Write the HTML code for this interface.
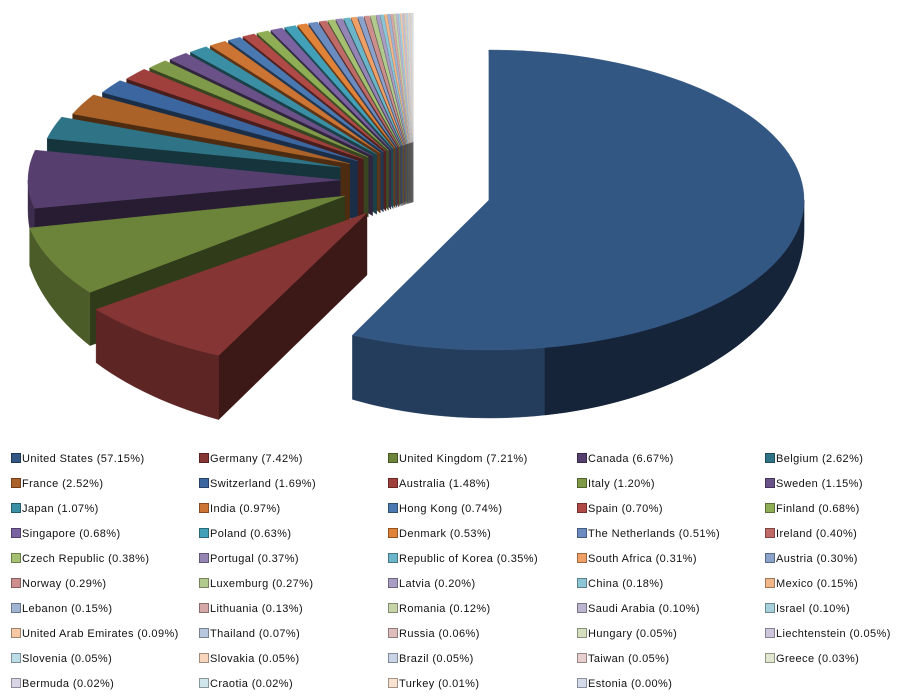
<!DOCTYPE html>
<html><head><meta charset="utf-8"><style>
html,body{margin:0;padding:0;background:#fff;}
#wrap{position:relative;width:903px;height:697px;overflow:hidden;background:#fff;}
svg{position:absolute;left:0;top:0;}
.lg{position:absolute;font-family:"Liberation Sans",sans-serif;font-size:11px;letter-spacing:0.4px;color:#111;white-space:nowrap;line-height:12px;}
.lg i{display:inline-block;width:8px;height:8px;border:1px solid rgba(0,0,0,0.35);margin-right:1px;vertical-align:-1px;}
</style></head><body><div id="wrap">
<svg id="pie" width="903" height="445" viewBox="0 0 903 445"></svg>
<div id="legend">
<div class="lg" style="left:11px;top:453px"><i></i>United States (57.15%)</div>
<div class="lg" style="left:199px;top:453px"><i></i>Germany (7.42%)</div>
<div class="lg" style="left:388px;top:453px"><i></i>United Kingdom (7.21%)</div>
<div class="lg" style="left:577px;top:453px"><i></i>Canada (6.67%)</div>
<div class="lg" style="left:765px;top:453px"><i></i>Belgium (2.62%)</div>
<div class="lg" style="left:11px;top:478px"><i></i>France (2.52%)</div>
<div class="lg" style="left:199px;top:478px"><i></i>Switzerland (1.69%)</div>
<div class="lg" style="left:388px;top:478px"><i></i>Australia (1.48%)</div>
<div class="lg" style="left:577px;top:478px"><i></i>Italy (1.20%)</div>
<div class="lg" style="left:765px;top:478px"><i></i>Sweden (1.15%)</div>
<div class="lg" style="left:11px;top:503px"><i></i>Japan (1.07%)</div>
<div class="lg" style="left:199px;top:503px"><i></i>India (0.97%)</div>
<div class="lg" style="left:388px;top:503px"><i></i>Hong Kong (0.74%)</div>
<div class="lg" style="left:577px;top:503px"><i></i>Spain (0.70%)</div>
<div class="lg" style="left:765px;top:503px"><i></i>Finland (0.68%)</div>
<div class="lg" style="left:11px;top:528px"><i></i>Singapore (0.68%)</div>
<div class="lg" style="left:199px;top:528px"><i></i>Poland (0.63%)</div>
<div class="lg" style="left:388px;top:528px"><i></i>Denmark (0.53%)</div>
<div class="lg" style="left:577px;top:528px"><i></i>The Netherlands (0.51%)</div>
<div class="lg" style="left:765px;top:528px"><i></i>Ireland (0.40%)</div>
<div class="lg" style="left:11px;top:553px"><i></i>Czech Republic (0.38%)</div>
<div class="lg" style="left:199px;top:553px"><i></i>Portugal (0.37%)</div>
<div class="lg" style="left:388px;top:553px"><i></i>Republic of Korea (0.35%)</div>
<div class="lg" style="left:577px;top:553px"><i></i>South Africa (0.31%)</div>
<div class="lg" style="left:765px;top:553px"><i></i>Austria (0.30%)</div>
<div class="lg" style="left:11px;top:578px"><i></i>Norway (0.29%)</div>
<div class="lg" style="left:199px;top:578px"><i></i>Luxemburg (0.27%)</div>
<div class="lg" style="left:388px;top:578px"><i></i>Latvia (0.20%)</div>
<div class="lg" style="left:577px;top:578px"><i></i>China (0.18%)</div>
<div class="lg" style="left:765px;top:578px"><i></i>Mexico (0.15%)</div>
<div class="lg" style="left:11px;top:603px"><i></i>Lebanon (0.15%)</div>
<div class="lg" style="left:199px;top:603px"><i></i>Lithuania (0.13%)</div>
<div class="lg" style="left:388px;top:603px"><i></i>Romania (0.12%)</div>
<div class="lg" style="left:577px;top:603px"><i></i>Saudi Arabia (0.10%)</div>
<div class="lg" style="left:765px;top:603px"><i></i>Israel (0.10%)</div>
<div class="lg" style="left:11px;top:628px"><i></i>United Arab Emirates (0.09%)</div>
<div class="lg" style="left:199px;top:628px"><i></i>Thailand (0.07%)</div>
<div class="lg" style="left:388px;top:628px"><i></i>Russia (0.06%)</div>
<div class="lg" style="left:577px;top:628px"><i></i>Hungary (0.05%)</div>
<div class="lg" style="left:765px;top:628px"><i></i>Liechtenstein (0.05%)</div>
<div class="lg" style="left:11px;top:653px"><i></i>Slovenia (0.05%)</div>
<div class="lg" style="left:199px;top:653px"><i></i>Slovakia (0.05%)</div>
<div class="lg" style="left:388px;top:653px"><i></i>Brazil (0.05%)</div>
<div class="lg" style="left:577px;top:653px"><i></i>Taiwan (0.05%)</div>
<div class="lg" style="left:765px;top:653px"><i></i>Greece (0.03%)</div>
<div class="lg" style="left:11px;top:678px"><i></i>Bermuda (0.02%)</div>
<div class="lg" style="left:199px;top:678px"><i></i>Craotia (0.02%)</div>
<div class="lg" style="left:388px;top:678px"><i></i>Turkey (0.01%)</div>
<div class="lg" style="left:577px;top:678px"><i></i>Estonia (0.00%)</div>
</div>
</div>
<script>
var vals=[57.15,7.42,7.21,6.67,2.62,2.52,1.69,1.48,1.20,1.15,1.07,0.97,0.74,0.70,0.68,0.68,0.63,0.53,0.51,0.40,0.38,0.37,0.35,0.31,0.30,0.29,0.27,0.20,0.18,0.15,0.15,0.13,0.12,0.10,0.10,0.09,0.07,0.06,0.05,0.05,0.05,0.05,0.05,0.05,0.03,0.02,0.02,0.01,0.004];
var groups=[
["#335783","#853533","#6B843A","#563F6E","#2E7486","#AA6228"],
["#3B66A0","#A0403D","#7F9A48","#6A5288","#3A8FA5","#CC7433"],
["#4A78B0","#B04A47","#8FAD55","#7B62A0","#42A0B8","#E08238"],
["#6B8CC0","#C06A68","#A5C070","#9585B5","#6AB5CA","#EFA066"],
["#8AA2CC","#CC8F8E","#B3CA8E","#A99DC4","#8CC5D5","#F2B788"],
["#A0B4D4","#D4A8A7","#C5D5A8","#BDB4D0","#A5D0DC","#F5C8A6"],
["#B8C6DE","#DEBDBC","#D3DFBE","#CDC6DC","#BCDDE6","#F7D6BD"],
["#C8D3E6","#E6CFCE","#DFE8CF","#DAD5E6","#CFE6EC","#F9E2D0"],
["#D4DCEB","#ECDCDB","#E8EEDC","#E4E0EC","#DCEDF1","#FBEBDD"]];
function col(i){return groups[Math.floor(i/6)][i%6];}
function shade(h,f){var n=parseInt(h.slice(1),16);var r=(n>>16)&255,g=(n>>8)&255,b=n&255;
return "rgb("+Math.round(r*f)+","+Math.round(g*f)+","+Math.round(b*f)+")";}
var sw=document.querySelectorAll('.lg i');
for(var i=0;i<sw.length;i++){sw[i].style.background=col(i);}
var svg=document.getElementById('pie');var out="";
var R=Math.PI/180;
function P(s,t){return [s.cx+s.rx*Math.sin(t*R), s.cy-s.ry*Math.cos(t*R)];}
function dep(t){return 30+38*Math.max(0,-Math.cos(t*R));}
function pts(a){return a.map(function(p){return p[0].toFixed(1)+","+p[1].toFixed(1)}).join(" ");}
function poly(a,c){out+='<polygon points="'+pts(a)+'" fill="'+c+'" stroke="'+c+'" stroke-width="0.4"/>';}
var slices=[];var acc=0;var tot=vals.reduce(function(a,b){return a+b},0);
for(var i=0;i<vals.length;i++){var a0=acc/tot*360;acc+=vals[i];var a1=acc/tot*360;slices.push({i:i,a0:a0,a1:a1});}
slices[0].cx=489;slices[0].cy=200;slices[0].rx=315;slices[0].ry=150;
slices[1].cx=367;slices[1].cy=213;slices[1].rx=342;slices[1].ry=158;
slices[2].cx=345;slices[2].cy=196;slices[2].rx=322;slices[2].ry=158;
slices[3].cx=340;slices[3].cy=180;slices[3].rx=312;slices[3].ry=140;
for(var i=4;i<slices.length;i++){var s=slices[i];var m=(s.a0+s.a1)/2;var f=(m-287)/(360-287);
var e=5*(1-f);
s.cx=345+f*68+e*Math.sin(m*R);s.cy=168-f*26-e*0.5*Math.cos(m*R);s.rx=300-f*12;s.ry=135-f*6;}
function drawSlice(s,tipd){
 var c=col(s.i),dk=shade(c,0.45),dk2=shade(c,0.7);
 var tip=[s.cx,s.cy];
 var p0=P(s,s.a0);
 if(s.a0>=180){poly([tip,p0,[p0[0],p0[1]+dep(s.a0)],[tip[0],tip[1]+tipd]],dk);}
 var lo=Math.max(s.a0,180),hi=Math.min(s.a1,270);
 if(s.i==0){lo=90;hi=s.a1;}
 if(hi>lo){var top=[],bot=[];var n=Math.max(4,Math.ceil((hi-lo)/2));
  for(var k=0;k<=n;k++){var t=lo+(hi-lo)*k/n;var p=P(s,t);top.push(p);bot.push([p[0],p[1]+dep(t)]);}
  poly(top.concat(bot.reverse()),dk2);
  if(s.i==0){
   var top2=[],bot2=[];for(var k=0;k<=n;k++){var t=lo+(hi-lo)*k/n;if(t>170)break;var p=P(s,t);top2.push(p);bot2.push([p[0],p[1]+dep(t)]);}
   poly(top2.concat(bot2.reverse()),"#16243a");}
 }
 if(s.i==0){var q=P(s,0);poly([tip,q,[q[0]+1,q[1]+dep(0)],[tip[0]+1,tip[1]+tipd]],"#1c2d45");}
 var ar=[tip];var n=Math.max(2,Math.ceil((s.a1-s.a0)/2));
 for(var k=0;k<=n;k++){ar.push(P(s,s.a0+(s.a1-s.a0)*k/n));}
 poly(ar,c);
}
for(var i=slices.length-1;i>=1;i--){drawSlice(slices[i],i<4?62:60);}
drawSlice(slices[0],30);
svg.innerHTML=out;
</script>
</body></html>
